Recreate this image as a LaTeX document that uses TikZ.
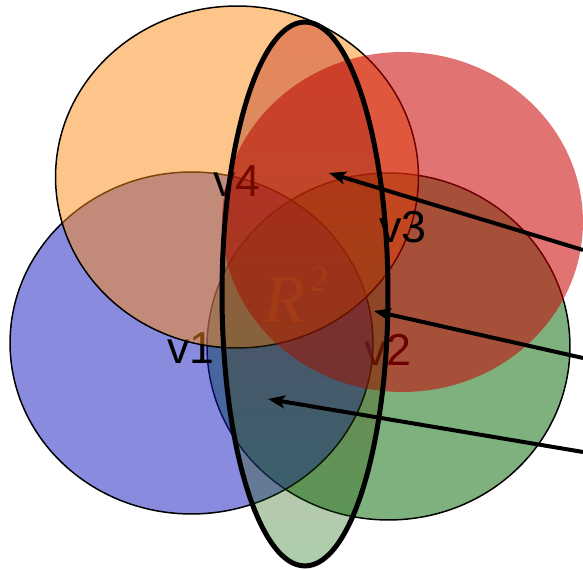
\documentclass[tikz,border=0pt]{standalone}
\usepackage{xcolor}
\usepackage{fontspec}
\usepackage{tikz}
\usetikzlibrary{shapes.geometric, arrows.meta, positioning}
\setmainfont{Liberation Sans}
\newfontfamily\serifR{Liberation Serif}
\definecolor{setblue}{RGB}{20, 25, 190}
\definecolor{setorange}{RGB}{251, 139, 21}
\definecolor{setgreen}{RGB}{0, 100, 0}
\definecolor{setred}{RGB}{200, 0, 0}
\definecolor{planetop}{RGB}{187, 0, 0}
\definecolor{planebottom}{RGB}{0, 100, 0}
\definecolor{rtext}{RGB}{165, 58, 22}

\begin{document}
\begin{tikzpicture}[
    x=0.02cm, y=-0.02cm,
    every node/.style={font=\fontsize{25.5}{28}\selectfont, inner sep=0pt},
    setshape/.style={
        ellipse,
        minimum width=7.26cm,
        minimum height=6.84cm,
        fill opacity=0.5,
        draw opacity=1
    },
    outlined/.style={
        draw=black,
        line width=0.85pt
    },
    plane/.style={
        ellipse,
        minimum width=3.32cm,
        minimum height=10.88cm,
        draw=black,
        line width=0.1cm,
        top color=planetop,
        bottom color=planebottom,
        fill opacity=0.32,
        draw opacity=1
    },
    arrow/.style={
        line width=0.08cm,
        {Stealth[length=0.34cm, width=0.26cm, inset=0.08cm]}-,
        draw=black
    },
    setlabel/.style={text=black}
]

\useasboundingbox (0,0) rectangle (583,570);

% ==================== SETS ====================
\node (vtwo) [setshape, outlined, fill=setgreen, minimum height=6.94cm] at (388.5,346.5) {};
\node (ltwo) [setlabel] at (388,350) {v2};

\node (vone) [setshape, outlined, fill=setblue] at (191.5,343) {};
\node (lone) [setlabel] at (191,348) {v1};

\node (vfour) [setshape, outlined, fill=setorange] at (237,177) {};
\node (lfour) [setlabel] at (237,181) {v4};

\node (vthree) [setshape, fill=setred, fill opacity=0.55, minimum width=7.22cm, minimum height=6.8cm] at (402.5,222) {};

% ==================== PLANE ====================
\node (rtwo) [plane] at (305,294) {};
\node (lthree) [setlabel] at (403,227) {v3};

\node (rlabel) [text=rtext] at (296,295)
    {{\serifR\fontsize{39}{40}\selectfont\itshape R}\kern0.1cm\raisebox{0.62cm}{\serifR\fontsize{21}{22}\selectfont 2}};

% ==================== POINTERS ====================
\coordinate (tipa) at (329,173);
\coordinate (taila) at (583,250);
\coordinate (tipb) at (374,311);
\coordinate (tailb) at (583,358);
\coordinate (tipc) at (268,399);
\coordinate (tailc) at (583,452);

\draw [arrow] (tipa) -- (taila);
\draw [arrow] (tipb) -- (tailb);
\draw [arrow] (tipc) -- (tailc);

\end{tikzpicture}
\end{document}
